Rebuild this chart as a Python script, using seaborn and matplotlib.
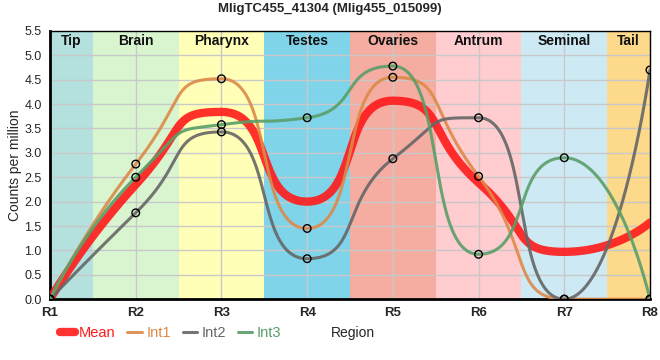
import numpy as np
import pandas as pd
import matplotlib
matplotlib.use("Agg")
import matplotlib.pyplot as plt
import seaborn as sns

regions = ["R1", "R2", "R3", "R4", "R5", "R6", "R7", "R8"]
int1 = [0.0, 2.77, 4.52, 1.45, 4.55, 2.52, 0.0, 0.0]
int2 = [0.0, 1.77, 3.43, 0.83, 2.88, 3.72, 0.0, 4.70]
int3 = [0.0, 2.50, 3.58, 3.72, 4.78, 0.92, 2.90, 0.0]
mean = [0.0, 2.35, 3.84, 2.00, 4.07, 2.39, 0.97, 1.57]

tissues = ["Tip", "Brain", "Pharynx", "Testes", "Ovaries", "Antrum", "Seminal", "Tail"]
tissue_colors = ["#b4e1dd", "#d9f5d0", "#ffffb8", "#80d4ea",
                 "#f5aca1", "#ffccd0", "#cdeaf4", "#fcd98b"]

series_colors = {"Mean": "#ff1a1a", "Int1": "#dd8a48", "Int2": "#666666", "Int3": "#5a9e68"}


def spline_curve(y, n=80, c=0.62):
    """Bezier spline through evenly spaced points, flat at local extremes."""
    y = np.asarray(y, dtype=float)
    x = np.arange(len(y), dtype=float)
    left = [None] * len(y)
    right = [None] * len(y)
    for i in range(1, len(y) - 1):
        slope = (y[i + 1] - y[i - 1]) / 2
        ly = y[i] - slope * c
        ry = y[i] + slope * c
        if ly > y[i - 1] and ly > y[i]:
            ly = max(y[i - 1], y[i]); ry = 2 * y[i] - ly
        elif ly < y[i - 1] and ly < y[i]:
            ly = min(y[i - 1], y[i]); ry = 2 * y[i] - ly
        if ry > y[i + 1] and ry > y[i]:
            ry = max(y[i + 1], y[i]); ly = 2 * y[i] - ry
        elif ry < y[i + 1] and ry < y[i]:
            ry = min(y[i + 1], y[i]); ly = 2 * y[i] - ry
        left[i] = (x[i] - c, ly)
        right[i] = (x[i] + c, ry)
    xs, ys = [], []
    for i in range(len(y) - 1):
        p0 = (x[i], y[i])
        p3 = (x[i + 1], y[i + 1])
        p1 = right[i] if right[i] is not None else p0
        p2 = left[i + 1] if left[i + 1] is not None else p3
        u = np.linspace(0, 1, n, endpoint=(i == len(y) - 2))
        b0, b1, b2, b3 = (1 - u) ** 3, 3 * u * (1 - u) ** 2, 3 * u**2 * (1 - u), u**3
        xs.append(b0 * p0[0] + b1 * p1[0] + b2 * p2[0] + b3 * p3[0])
        ys.append(b0 * p0[1] + b1 * p1[1] + b2 * p2[1] + b3 * p3[1])
    return np.concatenate(xs), np.concatenate(ys)


sns.set_style("white")
plt.rcParams["font.family"] = ["Liberation Sans", "DejaVu Sans"]

fig = plt.figure(figsize=(6.6, 3.6), dpi=100)
ax = fig.add_axes([0.0758, 0.169, 0.909, 0.745])

# tissue background bands
for i, (name, col) in enumerate(zip(tissues, tissue_colors)):
    lo = max(i - 0.5, 0)
    hi = min(i + 0.5, len(regions) - 1)
    ax.axvspan(lo, hi, color=col, zorder=0, lw=0)
    ax.text((lo + hi) / 2, 5.3, name, ha="center", va="center",
            fontsize=10, fontweight="bold", color="#111111", zorder=5)

for v in np.arange(0.5, 5.5, 0.5):
    ax.axhline(v, color="#c8c8c8", lw=1, zorder=1)
for i in range(1, len(regions) - 1):
    ax.axvline(i, color="#c8c8c8", lw=1, zorder=1)

curves = []
for name, vals in [("Mean", mean), ("Int1", int1), ("Int2", int2), ("Int3", int3)]:
    cx, cy = spline_curve(vals)
    curves.append(pd.DataFrame({"x": cx, "y": cy, "series": name}))
curve_df = pd.concat(curves, ignore_index=True)

sns.lineplot(data=curve_df[curve_df.series == "Mean"], x="x", y="y", color=series_colors["Mean"],
             lw=6, alpha=0.9, ax=ax, zorder=3, label="Mean", sort=False)
for name in ["Int1", "Int2", "Int3"]:
    sns.lineplot(data=curve_df[curve_df.series == name], x="x", y="y", color=series_colors[name],
                 lw=2.2, alpha=0.9, ax=ax, zorder=3, label=name, sort=False)

pts = pd.DataFrame({
    "x": np.tile(np.arange(len(regions)), 3),
    "y": int1 + int2 + int3,
})
sns.scatterplot(data=pts, x="x", y="y", s=30, facecolor="none", edgecolor="black",
                linewidth=1, ax=ax, zorder=4, legend=False)

ax.set_xlim(0, len(regions) - 1)
ax.set_ylim(0, 5.5)
ax.set_xticks(range(len(regions)))
ax.set_xticklabels(regions, fontweight="bold", fontsize=9.5)
ax.set_yticks(np.arange(0, 5.51, 0.5))
ax.set_yticklabels([f"{v:.1f}" for v in np.arange(0, 5.51, 0.5)], fontsize=9)
ax.tick_params(axis="both", length=4, width=1, color="black", pad=2)
ax.set_ylabel("Counts per million", fontsize=10, labelpad=2)
ax.set_xlabel("Region", fontsize=10)
ax.xaxis.set_label_coords(0.505, -0.1)
fig.text(0.5, 0.975, "MligTC455_41304 (Mlig455_015099)", ha="center", va="center",
         fontsize=9.5, fontweight="bold")

for side in ["left", "bottom"]:
    ax.spines[side].set_linewidth(2)
for side in ["top", "right"]:
    ax.spines[side].set_linewidth(1)
for sp in ax.spines.values():
    sp.set_color("black")
    sp.set_visible(True)

leg = ax.legend(loc="upper left", bbox_to_anchor=(-0.005, -0.05), ncol=4, frameon=False,
                fontsize=10.5, handlelength=1.0, handletextpad=0.3, columnspacing=0.8)
for txt, name in zip(leg.get_texts(), ["Mean", "Int1", "Int2", "Int3"]):
    txt.set_color(series_colors[name])

fig.savefig("out.png", dpi=100)
